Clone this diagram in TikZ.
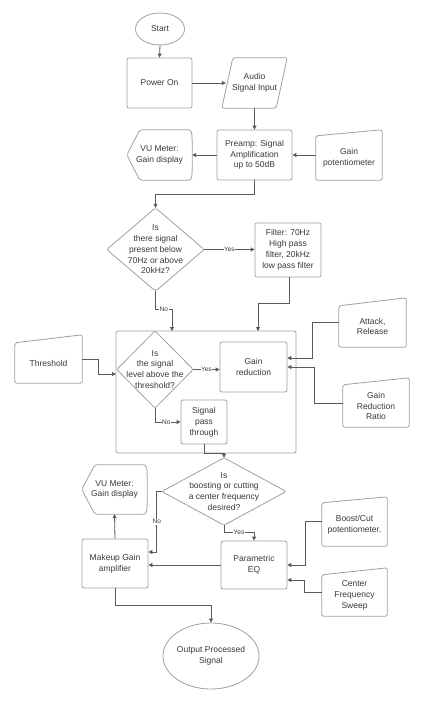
\documentclass[tikz,border=0pt]{standalone}
\usepackage{fontspec}
\setmainfont{Liberation Sans}
\usetikzlibrary{shapes.geometric,arrows.meta,calc}
\definecolor{txtc}{HTML}{3A3A3A}
\definecolor{edgec}{HTML}{A0A0A0}
\definecolor{connc}{HTML}{5A5A5A}
\begin{document}
\begin{tikzpicture}[x=1pt,y=-1pt,
  every node/.style={font=\fontsize{8.5}{10.8}\selectfont, text=txtc, align=center, inner sep=0pt},
  frame/.style={draw=edgec, line width=0.8pt, rounded corners=2pt},
  box/.style={frame, rectangle},
  conn/.style={draw=connc, line width=0.8pt, -{Triangle[length=4pt,width=4pt]}},
  lab/.style={font=\fontsize{6.5}{7}\selectfont, fill=white, inner sep=0.6pt}]
\useasboundingbox[fill=white] (0,0) rectangle (427,708);

% nodes
\node[frame, ellipse, minimum width=49, minimum height=32] (start) at (160,29) {Start};
\node[box, minimum width=65, minimum height=50] (power) at (159.5,83) {Power On};
\node[minimum width=65, minimum height=50] (audio) at (254.5,83) {Audio\\Signal Input};
\draw[frame] (audio.south west) -- ($(audio.north west)+(11,0)$) -- (audio.north east) -- ($(audio.south east)+(-11,0)$) -- cycle;

\node[box, minimum width=75, minimum height=50] (preamp) at (254.5,155) {Preamp: Signal\\Amplification\\up to 50dB};
\node[minimum width=65, minimum height=50] (vu1) at (159.5,155) {VU Meter:\\Gain display};
\draw[frame] (vu1.west) -- ($(vu1.north west)+(13,0)$) -- ($(vu1.north east)+(-7,0)$) .. controls (vu1.north east) .. (vu1.east) .. controls (vu1.south east) .. ($(vu1.south east)+(-7,0)$) -- ($(vu1.south west)+(13,0)$) -- cycle;
\node[minimum width=66, minimum height=44] (gainpot) at (349,158) {Gain\\potentiometer};
\draw[frame] (gainpot.south west) -- (gainpot.north west) -- ($(gainpot.north east)+(0,-6)$) -- (gainpot.south east) -- cycle;

\node[minimum width=97, minimum height=83] (d1) at (155.5,249.5) {Is\\there signal\\present below\\70Hz or above\\20kHz?};
\draw[frame] (d1.north) -- (d1.east) -- (d1.south) -- (d1.west) -- cycle;
\node[box, minimum width=66, minimum height=54] (filter) at (288,250) {Filter: 70Hz\\High pass\\filter, 20kHz\\low pass filter};

\node[box, minimum width=180, minimum height=122] (cont) at (206,392) {};
\coordinate (cin1) at (258,331);
\coordinate (cin2) at (172,331);
\coordinate (cin3) at (116,374);
\node[minimum width=76, minimum height=77] (d2) at (155,369.5) {Is\\the signal\\level above the\\threshold?};
\draw[frame] (d2.north) -- (d2.east) -- (d2.south) -- (d2.west) -- cycle;
\node[box, minimum width=67, minimum height=50] (gr) at (253.5,367) {Gain\\reduction};
\node[box, minimum width=46, minimum height=44] (sp) at (204,422) {Signal\\pass\\through};

\node[minimum width=67, minimum height=40] (thr) at (48.5,363) {Threshold};
\draw[frame] (thr.south west) -- (thr.north west) -- ($(thr.north east)+(0,-8)$) -- (thr.south east) -- cycle;
\node[minimum width=67, minimum height=41] (att) at (372.5,326.5) {Attack,\\Release};
\draw[frame] (att.south west) -- (att.north west) -- ($(att.north east)+(0,-8)$) -- (att.south east) -- cycle;
\node[minimum width=66, minimum height=42] (rat) at (376,406) {Gain\\Reduction\\Ratio};
\draw[frame] (rat.south west) -- (rat.north west) -- ($(rat.north east)+(0,-7)$) -- (rat.south east) -- cycle;

\node[minimum width=124, minimum height=67] (d3) at (224,491.5) {Is\\boosting or cutting\\a center frequency\\desired?};
\draw[frame] (d3.north) -- (d3.east) -- (d3.south) -- (d3.west) -- cycle;
\node[minimum width=65, minimum height=49] (vu2) at (114.5,489.5) {VU Meter:\\Gain display};
\draw[frame] (vu2.west) -- ($(vu2.north west)+(13,0)$) -- ($(vu2.north east)+(-7,0)$) .. controls (vu2.north east) .. (vu2.east) .. controls (vu2.south east) .. ($(vu2.south east)+(-7,0)$) -- ($(vu2.south west)+(13,0)$) -- cycle;
\node[box, minimum width=66, minimum height=49] (mk) at (115,563.5) {Makeup Gain\\amplifier};
\node[box, minimum width=66, minimum height=48] (eq) at (254,565) {Parametric\\EQ};
\node[minimum width=65, minimum height=43] (bc) at (354.5,524.5) {Boost/Cut\\potentiometer.};
\draw[frame] (bc.south west) -- (bc.north west) -- ($(bc.north east)+(0,-6)$) -- (bc.south east) -- cycle;
\node[minimum width=65, minimum height=41] (cfs) at (354.5,595.5) {Center\\Frequency\\Sweep};
\draw[frame] (cfs.south west) -- (cfs.north west) -- ($(cfs.north east)+(0,-7)$) -- (cfs.south east) -- cycle;
\node[frame, ellipse, minimum width=86, minimum height=66] (out) at (211,656) {Output Processed\\Signal};

% connectors
\draw[conn] (start.south) -- (power.north);
\draw[conn] (power.east) -- ($(audio.west)+(4,0)$);
\draw[conn] (audio.south) -- (preamp.north);
\draw[conn] (preamp.west) -- (vu1.east);
\draw[conn] (preamp.east -| gainpot.west) -- (preamp.east);
\draw[conn] (preamp.south) -- ++(0,14) -| (d1.north);
\draw[conn] (d1.east) -- node[lab]{Yes} (d1.east -| filter.west);
\draw[conn] ([xshift=1pt]filter.south) -- ++(0,26) -| (cin1);
\draw[conn] (d1.south) -- ++(0,18) coordinate (k1) -- node[lab]{No} (k1 -| cin2) -- (cin2);
\draw[conn] (d2.east) -- node[lab]{Yes} (d2.east -| gr.west);
\draw[conn] (d2.south) |- node[lab,pos=0.72]{No} (sp.west);
\draw[conn] (sp.south) -- ++(0,9) -| (d3.north);
\draw[conn] ([yshift=4pt]thr.east) -- ++(16,0) |- (cin3);
\draw[conn] ([yshift=4.5pt]att.west) -- ++(-26,0) |- ([yshift=9pt]gr.east);
\draw[conn] ([yshift=3pt]rat.west) -- ++(-28,0) |- (gr.east);
\draw[conn] (mk.north) -- (vu2.south);
\draw[conn] (d3.west) -- ++(-5,0) |- node[lab,pos=0.25]{No} ([yshift=11.5pt]mk.east);
\draw[conn] (d3.south) -- ++(0,7) -| node[lab,pos=0.25]{Yes} (eq.north);
\draw[conn] (eq.west) -- (eq.west -| mk.east);
\draw[conn] ([yshift=3.5pt]bc.west) -- ++(-16,0) |- (eq.east);
\draw[conn] ([yshift=3.5pt]cfs.west) -- ++(-17,0) |- ([yshift=-15pt]eq.east);
\draw[conn] (mk.south) -- ++(0,17) -| (out.north);
\end{tikzpicture}
\end{document}
